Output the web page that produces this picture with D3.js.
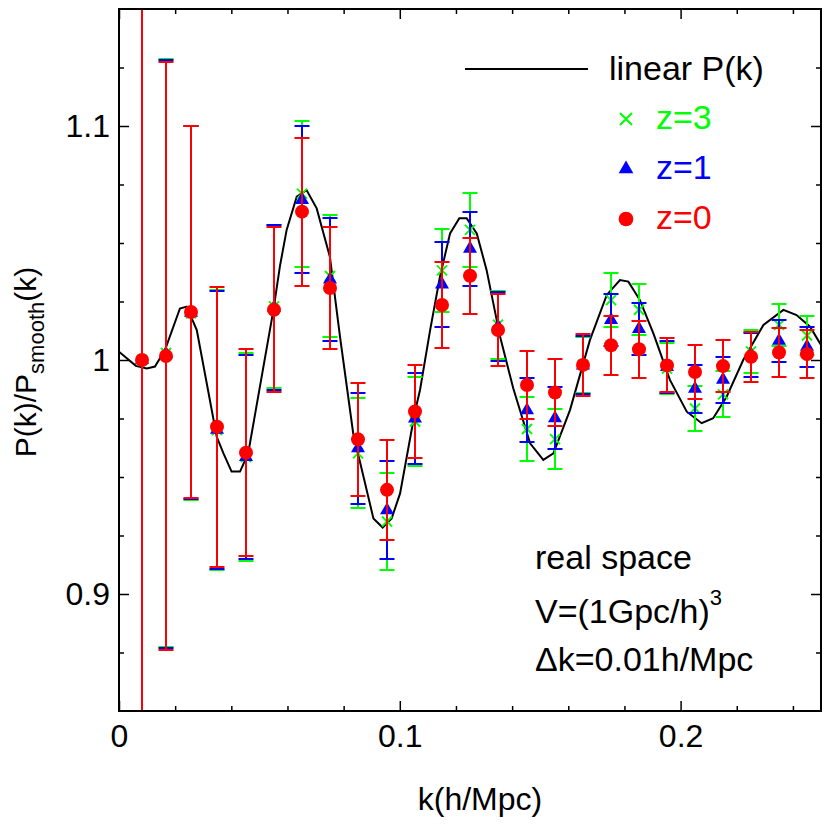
<!DOCTYPE html>
<meta charset="utf-8">
<html>
  <head>
	<script src="https://cdnjs.cloudflare.com/ajax/libs/d3/7.8.5/d3.min.js"></script>
	<style>
		body { margin: 0; background: #fff; }
		text { font-family: "Liberation Sans", Arial, Helvetica, sans-serif; }
	</style>
  </head>
<body>
	<div id='chart'></div>
</body>
<script>

// bin centres k (h/Mpc)
var kValues = [0.0081, 0.0166, 0.0258, 0.035, 0.0451, 0.0552, 0.0652, 0.0751, 0.085, 0.0953,
	0.1053, 0.1151, 0.125, 0.135, 0.1452, 0.1552, 0.1651, 0.1751, 0.1851, 0.1952,
	0.2051, 0.2152, 0.2252, 0.2352, 0.2451];

// z=0
var z0Values = [1.000, 1.0017, 1.0205, 0.9715, 0.9604, 1.0215, 1.0634, 1.0308, 0.9661, 0.9445,
	0.978, 1.0235, 1.036, 1.0128, 0.9893, 0.9861, 0.9979, 1.0063, 1.0046, 0.9977,
	0.9949, 0.9974, 1.0014, 1.0032, 1.0025];
var z0Errors = [0.2, 0.1257, 0.0796, 0.0598, 0.0442, 0.0353, 0.0316, 0.0262, 0.0242, 0.0214,
	0.0197, 0.0185, 0.0163, 0.0154, 0.0146, 0.0143, 0.0131, 0.0125, 0.0121, 0.0115,
	0.0115, 0.0112, 0.0107, 0.0103, 0.0103];

// z=1
var z1Values = [1.000, 1.0026, 1.0202, 0.9702, 0.9586, 1.0224, 1.0684, 1.0344, 0.9623, 0.9358,
	0.975, 1.0323, 1.0476, 1.0143, 0.9785, 0.9751, 0.9977, 1.0171, 1.0133, 0.997,
	0.9877, 0.9916, 1.0023, 1.0082, 1.0057];
var z1Errors = [0.2, 0.1257, 0.0798, 0.0594, 0.0436, 0.0352, 0.0314, 0.0261, 0.0237, 0.021,
	0.0193, 0.018, 0.0158, 0.0146, 0.0137, 0.0133, 0.0124, 0.011, 0.0112, 0.011,
	0.0102, 0.0098, 0.0094, 0.0089, 0.0085];

// z=3
var z3Values = [1.000, 1.003, 1.020, 0.9701, 0.9585, 1.0229, 1.0711, 1.0359, 0.9601, 0.931,
	0.9737, 1.0383, 1.0556, 1.0151, 0.9705, 0.9662, 0.998, 1.0256, 1.0215, 0.9964,
	0.9793, 0.9853, 1.0037, 1.015, 1.0105];
var z3Errors = [0.2, 0.1257, 0.0799, 0.060, 0.0444, 0.035, 0.0312, 0.0259, 0.0235, 0.0207,
	0.019, 0.0177, 0.0157, 0.0145, 0.0135, 0.0129, 0.012, 0.0117, 0.011, 0.011,
	0.0096, 0.0098, 0.0091, 0.0089, 0.0083];

// linear P(k) wiggle curve
var linK = [0, 0.006, 0.0099, 0.0128, 0.0164, 0.0217, 0.0241, 0.0277, 0.0348, 0.0372,
	0.0401, 0.0431, 0.046, 0.055, 0.0573, 0.0597, 0.0633, 0.0668, 0.0704, 0.0751,
	0.0787, 0.0834, 0.0906, 0.0939, 0.0971, 0.1001, 0.1054, 0.1072, 0.1108, 0.1143,
	0.1179, 0.1212, 0.1238, 0.1274, 0.1309, 0.1357, 0.1404, 0.1464, 0.1511, 0.1547,
	0.1606, 0.1677, 0.1737, 0.1784, 0.1814, 0.1855, 0.1903, 0.1962, 0.2022, 0.2075,
	0.2116, 0.2164, 0.2223, 0.2295, 0.2366, 0.2413, 0.2461, 0.25];
var linRatio = [1.0035, 0.9975, 0.9964, 0.9972, 1.0043, 1.022, 1.0228, 1.0128, 0.9672, 0.9601,
	0.9523, 0.9523, 0.9601, 1.0214, 1.040, 1.0556, 1.0698, 1.0726, 1.0648, 1.0441,
	1.010, 0.9687, 0.9323, 0.9284, 0.9323, 0.943, 0.9779, 0.9872, 1.0128, 1.0356,
	1.0541, 1.0606, 1.0606, 1.0541, 1.0385, 1.010, 0.9879, 0.9644, 0.9573, 0.9601,
	0.9786, 1.0085, 1.0278, 1.0342, 1.0335, 1.0256, 1.0114, 0.9915, 0.9779, 0.973,
	0.9751, 0.9843, 1.0, 1.015, 1.0214, 1.0192, 1.0142, 1.0064];

// ticks
var xMajorTicks = [0, 0.1, 0.2];
var xTickLabels = ["0", "0.1", "0.2"];
var xMinorTicks = [0.02, 0.04, 0.06, 0.08, 0.12, 0.14, 0.16, 0.18, 0.22, 0.24];
var yMajorTicks = [0.9, 1.0, 1.1];
var yTickLabels = ["0.9", "1", "1.1"];
var yMinorTicks = [0.875, 0.925, 0.95, 0.975, 1.025, 1.05, 1.075, 1.125];

var legendLabels = ["linear P(k)", "z=3", "z=1", "z=0"];

var drawGraph = function(){

	var width = 830;
	var height = 829;
	var left = 119, right = 821, top = 9, bottom = 711;
	var fontFamily = '"Liberation Sans", Arial, Helvetica, sans-serif';

	var svg = d3.select('#chart')
		.append('svg')
		.attr("width", width)
		.attr("height", height)
		.style('background-color', '#fff');

	var x = d3.scaleLinear().domain([0, 0.25]).range([left, right]);
	var y = d3.scaleLinear().domain([0.85, 1.15]).range([bottom, top]);

	svg.append("clipPath").attr("id", "plotclip")
		.append("rect")
		.attr("x", left).attr("y", top)
		.attr("width", right - left).attr("height", bottom - top);

	var plot = svg.append("g").attr("clip-path", "url(#plotclip)");

	// linear curve
	var line = d3.line()
		.x(function(d, i){ return x(linK[i]); })
		.y(function(d){ return y(d); });

	plot.append("path")
		.datum(linRatio)
		.attr("d", line)
		.attr("fill", "none")
		.attr("stroke", "black")
		.attr("stroke-width", 2);

	var series = [
		{vals: z3Values, errs: z3Errors, color: "#00ff00", marker: "x"},
		{vals: z1Values, errs: z1Errors, color: "#0000ff", marker: "tri"},
		{vals: z0Values, errs: z0Errors, color: "#ff0000", marker: "circle"}
	];

	var cap = 7.5;

	function drawMarker(g, type, cx, cy, color, scale){
		if (type === "circle") {
			g.append("circle").attr("cx", cx).attr("cy", cy).attr("r", 7 * scale).attr("fill", color);
		} else if (type === "tri") {
			g.append("path").attr("d", d3.symbol().type(d3.symbolTriangle).size(85 * scale * scale)())
				.attr("transform", "translate(" + cx + "," + cy + ")")
				.attr("fill", color);
		} else {
			var s = 5 * scale;
			g.append("path")
				.attr("d", "M" + (cx - s) + "," + (cy - s) + "L" + (cx + s) + "," + (cy + s) +
					"M" + (cx - s) + "," + (cy + s) + "L" + (cx + s) + "," + (cy - s))
				.attr("stroke", color).attr("stroke-width", 2).attr("fill", "none");
		}
	}

	series.forEach(function(s){
		var g = plot.append("g");
		kValues.forEach(function(k, i){
			// snap to whole pixels so overlapping bars do not blend their colours
			var cx = Math.round(x(k));
			var hi = Math.round(y(s.vals[i] + s.errs[i]));
			var lo = Math.round(y(s.vals[i] - s.errs[i]));
			g.append("line").attr("x1", cx).attr("x2", cx).attr("y1", hi).attr("y2", lo)
				.attr("stroke", s.color).attr("stroke-width", 2);
			g.append("line").attr("x1", cx - cap).attr("x2", cx + cap).attr("y1", hi).attr("y2", hi)
				.attr("stroke", s.color).attr("stroke-width", 2);
			g.append("line").attr("x1", cx - cap).attr("x2", cx + cap).attr("y1", lo).attr("y2", lo)
				.attr("stroke", s.color).attr("stroke-width", 2);
		});
		kValues.forEach(function(k, i){
			drawMarker(g, s.marker, Math.round(x(k)), y(s.vals[i]), s.color, 1);
		});
	});

	// axes - ticks point inward on all four sides
	function styleAxis(g){
		g.select(".domain").remove();
		g.selectAll(".tick line").attr("stroke", "black").attr("stroke-width", 1.5);
		g.selectAll(".tick text").attr("font-family", fontFamily).attr("font-size", 32).attr("fill", "black");
	}

	svg.append("g").attr("transform", "translate(0," + bottom + ")")
		.call(d3.axisBottom(x).tickValues(xMajorTicks).tickSize(-10).tickPadding(13)
			.tickFormat(function(d, i){ return xTickLabels[i]; }))
		.call(styleAxis);
	svg.append("g").attr("transform", "translate(0," + bottom + ")")
		.call(d3.axisBottom(x).tickValues(xMinorTicks).tickSize(-5).tickFormat(""))
		.call(styleAxis);
	svg.append("g").attr("transform", "translate(0," + top + ")")
		.call(d3.axisTop(x).tickValues(xMajorTicks).tickSize(-10).tickFormat(""))
		.call(styleAxis);
	svg.append("g").attr("transform", "translate(0," + top + ")")
		.call(d3.axisTop(x).tickValues(xMinorTicks).tickSize(-5).tickFormat(""))
		.call(styleAxis);

	svg.append("g").attr("transform", "translate(" + left + ",0)")
		.call(d3.axisLeft(y).tickValues(yMajorTicks).tickSize(-10).tickPadding(9)
			.tickFormat(function(d, i){ return yTickLabels[i]; }))
		.call(styleAxis);
	svg.append("g").attr("transform", "translate(" + left + ",0)")
		.call(d3.axisLeft(y).tickValues(yMinorTicks).tickSize(-5).tickFormat(""))
		.call(styleAxis);
	svg.append("g").attr("transform", "translate(" + right + ",0)")
		.call(d3.axisRight(y).tickValues(yMajorTicks).tickSize(-10).tickFormat(""))
		.call(styleAxis);
	svg.append("g").attr("transform", "translate(" + right + ",0)")
		.call(d3.axisRight(y).tickValues(yMinorTicks).tickSize(-5).tickFormat(""))
		.call(styleAxis);

	// frame
	svg.append("rect")
		.attr("x", left).attr("y", top)
		.attr("width", right - left).attr("height", bottom - top)
		.attr("fill", "none").attr("stroke", "black").attr("stroke-width", 2);

	// axis titles
	svg.append("text")
		.attr("x", 480).attr("y", 810)
		.attr("text-anchor", "middle")
		.attr("font-size", 32)
		.text("k(h/Mpc)");

	var ylab = svg.append("text")
		.attr("transform", "translate(36,362) rotate(-90)")
		.attr("text-anchor", "middle")
		.attr("font-size", 30);
	ylab.append("tspan").text("P(k)/P");
	ylab.append("tspan").attr("font-size", 22).attr("dy", 8).text("smooth");
	ylab.append("tspan").attr("dy", -8).text("(k)");

	// legend
	var legend = svg.append("g");
	legend.append("line")
		.attr("x1", 465).attr("x2", 588).attr("y1", 69).attr("y2", 69)
		.attr("stroke", "black").attr("stroke-width", 2);
	legend.append("text").attr("x", 609).attr("y", 80).attr("font-size", 34)
		.text(legendLabels[0]);

	var legendColors = ["#00ff00", "#0000ff", "#ff0000"];
	var legendMarkers = ["x", "tri", "circle"];
	[0, 1, 2].forEach(function(i){
		var by = 129 + i * 50;
		drawMarker(legend, legendMarkers[i], 626, by - 10, legendColors[i], legendMarkers[i] === "x" ? 1.2 : 1.05);
		legend.append("text").attr("x", 656).attr("y", by).attr("font-size", 34)
			.attr("fill", legendColors[i])
			.text(legendLabels[i + 1]);
	});

	// annotation
	var note = svg.append("g").attr("font-size", 34);
	note.append("text").attr("x", 535).attr("y", 569).text("real space");
	var vt = note.append("text").attr("x", 535).attr("y", 623);
	vt.append("tspan").text("V=(1Gpc/h)");
	vt.append("tspan").attr("font-size", 22).attr("dy", -18).text("3");
	note.append("text").attr("x", 535).attr("y", 671).text("\u0394k=0.01h/Mpc");

}

drawGraph();

</script>
</html>
